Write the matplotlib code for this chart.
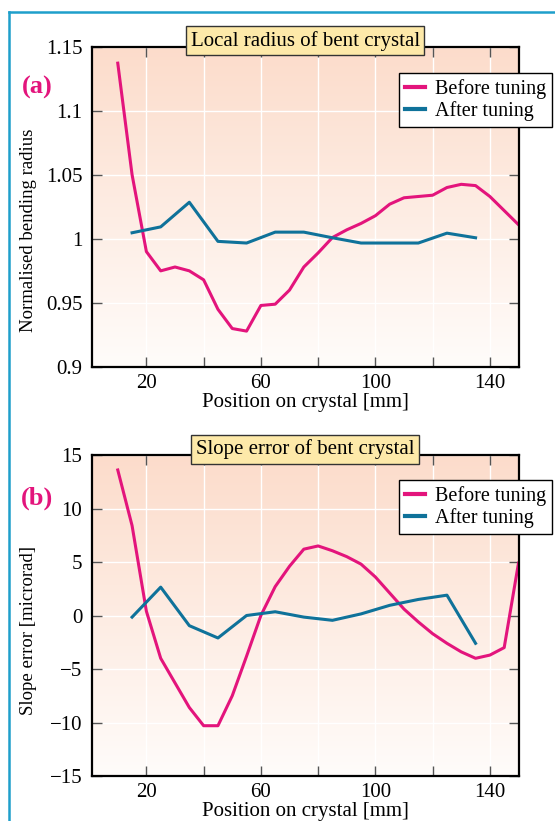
import numpy as np
import matplotlib
matplotlib.use("Agg")
from matplotlib import pyplot as plt
from matplotlib.colors import LinearSegmentedColormap
from matplotlib.lines import Line2D

plt.rcParams['font.family'] = ['Liberation Serif', 'DejaVu Serif']

# positions along the crystal [mm]
x_before = np.arange(10, 151, 5)
x_after = np.arange(15, 136, 10)

# (a) normalised bending radius
radius_before = [1.137, 1.050, 0.990, 0.975, 0.978, 0.975, 0.968, 0.945, 0.930, 0.928,
                 0.948, 0.949, 0.960, 0.978, 0.989, 1.001, 1.007, 1.012, 1.018, 1.027,
                 1.032, 1.033, 1.034, 1.040, 1.0425, 1.0415, 1.033, 1.022, 1.011]
radius_after = [1.0047, 1.0093, 1.0285, 0.998, 0.9967, 1.0052, 1.0052, 1.0008,
                0.9967, 0.9967, 0.9967, 1.0044, 1.0008]

# (b) slope error [microrad]
slope_before = [13.6, 8.4, 0.4, -4.0, -6.3, -8.6, -10.3, -10.3, -7.5, -3.8,
                0.0, 2.7, 4.6, 6.2, 6.5, 6.05, 5.5, 4.8, 3.6, 2.1,
                0.6, -0.6, -1.7, -2.6, -3.4, -4.0, -3.7, -3.0, 4.9]
slope_after = [-0.15, 2.65, -0.95, -2.1, 0.0, 0.35, -0.15, -0.45, 0.15, 0.95, 1.5, 1.9, -2.6]

pink = "#e3147c"
blue = "#0f729a"
W, H = 555, 821

fig = plt.figure(figsize=(W / 100, H / 100), dpi=100)
fig.patch.set_facecolor("white")

grad_cmap = LinearSegmentedColormap.from_list("bg", ["#fffcfa", "#fcdccb"])
grad = np.linspace(0, 1, 256).reshape(-1, 1)


def make_panel(rect, xb, yb, xa, ya, ylim, yticks, ylabels, ylabel, ylabel_y, title, leg_y):
    ax = fig.add_axes(rect)
    ax.imshow(grad, extent=[0, 1, 0, 1], transform=ax.transAxes, aspect='auto',
              cmap=grad_cmap, origin='lower', zorder=0.1)
    ax.set_axisbelow(True)
    ax.grid(True, color="white", linewidth=1.0)

    ax.plot(xb, yb, color=pink, linewidth=2.2, label="Before tuning", zorder=3)
    ax.plot(xa, ya, color=blue, linewidth=2.2, label="After tuning", zorder=3)

    ax.set_xlim(1, 150)
    ax.set_ylim(*ylim)
    ax.set_xticks(range(20, 150, 20))
    ax.set_xticklabels(["20", "", "60", "", "100", "", "140"])
    ax.set_yticks(yticks)
    ax.set_yticklabels(ylabels)
    ax.tick_params(direction="in", length=7, width=1, color="#555555",
                   top=True, right=True, labelsize=15, pad=5)
    ax.tick_params(axis="y", pad=7)
    for s in ax.spines.values():
        s.set_linewidth(1.6)
        s.set_zorder(4)

    ax.set_xlabel("Position on crystal [mm]", fontsize=15, labelpad=0)
    ax.set_ylabel(ylabel, fontsize=13.5)
    ax.yaxis.set_label_coords(-0.128, ylabel_y)

    ax.text(0.5, 1.018, title, transform=ax.transAxes, ha="center", va="center",
            fontsize=15, zorder=6,
            bbox=dict(boxstyle="square,pad=0.22", facecolor="#fde9a9", edgecolor="#333333",
                      linewidth=1.0))

    leg = ax.legend(loc="upper left", bbox_to_anchor=(0.72, leg_y), fontsize=14.5,
                    handlelength=1.0, handletextpad=0.5, borderpad=0.3, labelspacing=0.1,
                    fancybox=False, framealpha=1, edgecolor="black", borderaxespad=0)
    leg.get_frame().set_linewidth(1.0)
    leg.set_zorder(6)
    for line in leg.get_lines():
        line.set_linewidth(3)
    return ax


ax1 = make_panel([92 / W, 1 - 367 / H, 426.5 / W, 320.5 / H],
                 x_before, radius_before, x_after, radius_after,
                 (0.9, 1.15), [0.9, 0.95, 1.0, 1.05, 1.1, 1.15],
                 ["0.9", "0.95", "1", "1.05", "1.1", "1.15"],
                 "Normalised bending radius", 0.427, "Local radius of bent crystal", 0.917)

ax2 = make_panel([92 / W, 1 - 776 / H, 426.5 / W, 321 / H],
                 x_before, slope_before, x_after, slope_after,
                 (-15, 15), [-15, -10, -5, 0, 5, 10, 15],
                 ["\u221215", "\u221210", "\u22125", "0", "5", "10", "15"],
                 "Slope error [microrad]", 0.452, "Slope error of bent crystal", 0.922)

fig.text(37 / W, 1 - 87 / H, "(a)", color=pink, fontsize=19, fontweight="bold",
         ha="center", va="center")
fig.text(37 / W, 1 - 498 / H, "(b)", color=pink, fontsize=19, fontweight="bold",
         ha="center", va="center")

# outer frame (left and top only visible)
frame_col = "#1e9fcb"
fig.add_artist(Line2D([9 / W, 9 / W], [0, 1 - 12 / H], color=frame_col, linewidth=1.8))
fig.add_artist(Line2D([9 / W, 1], [1 - 12 / H, 1 - 12 / H], color=frame_col, linewidth=1.8))

fig.savefig("out.png", dpi=100)
